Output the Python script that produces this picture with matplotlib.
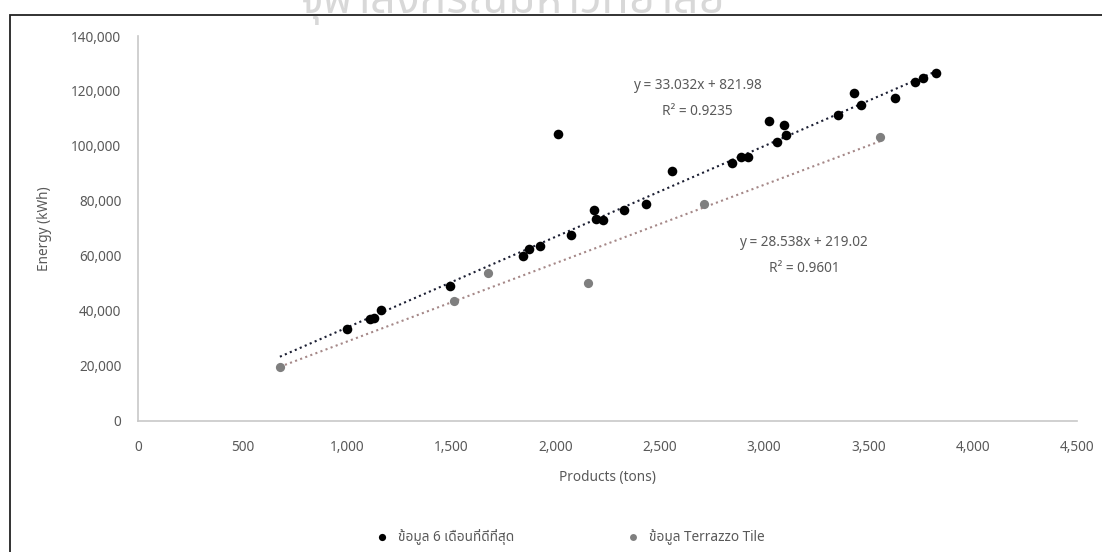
import matplotlib
matplotlib.use("Agg")
import matplotlib.pyplot as plt
from matplotlib import font_manager
from matplotlib.patches import Rectangle
from matplotlib.ticker import FuncFormatter

# best 6 months (black)
best_x = [1003, 1112, 1130, 1163, 1495, 1846, 1875, 1926, 2014, 2075, 2186, 2194,
          2230, 2329, 2433, 2560, 2849, 2888, 2924, 3023, 3060, 3097, 3105, 3356,
          3432, 3464, 3630, 3723, 3760, 3822]
best_y = [33200, 37100, 37500, 40200, 48900, 59800, 62400, 63400, 104300, 67400, 76500, 73300,
          73100, 76500, 78700, 90700, 93700, 95800, 95800, 108900, 101600, 107600, 104100, 111300,
          119300, 115000, 117600, 123400, 124600, 126600]

# terrazzo tile (gray)
tile_x = [680, 1514, 1676, 2155, 2712, 3557]
tile_y = [19600, 43600, 53900, 50100, 78700, 103300]

# trendlines: slope, intercept, x range
best_fit = (33.032, 821.98)
best_range = [680, 3822]
tile_fit = (28.538, 219.02)
tile_range = [680, 3557]

best_label = 'ข้อมูล 6 เดือนที่ดีที่สุด'
tile_label = 'ข้อมูล Terrazzo Tile'
best_eq = ['y = 33.032x + 821.98', 'R² = 0.9235']
tile_eq = ['y = 28.538x + 219.02', 'R² = 0.9601']
watermark = 'จุฬาลงกรณ์มหาวิทยาลัย'


def pick(cands):
    names = {f.name for f in font_manager.fontManager.ttflist}
    for c in cands:
        if c in names:
            return c
    return 'DejaVu Sans'


thai = pick(['Noto Sans Thai', 'Sarabun', 'Anuphan', 'Athiti'])
plt.rcParams['font.family'] = ['Noto Sans', thai]

txt = '#595959'
fs = 9.8
fig = plt.figure(figsize=(11.02, 5.52), dpi=100)

# watermark (cut off at the top, as in the scan) and outer frame
fig.text(0.465, 1 - 13 / 552, watermark, fontsize=32, fontweight='bold', color='#d8d8d8',
         ha='center', va='baseline', family=[thai], zorder=0)
fig.patches.append(Rectangle((10 / 1102, -0.1), 1.2, 1 - 15 / 552 + 0.1, transform=fig.transFigure,
                             fill=False, edgecolor='#222222', linewidth=1.3, zorder=1))

ax = fig.add_axes([138 / 1102, 1 - 420.7 / 552, (1077 - 138) / 1102, (420.7 - 36) / 552])
ax.set_xlim(0, 4500)
ax.set_ylim(0, 140000)

for rng, (m, b), col in [(best_range, best_fit, '#1c1f33'), (tile_range, tile_fit, '#a58888')]:
    ax.plot(rng, [m * v + b for v in rng], color=col, lw=1.5, linestyle=(0, (1, 1.6)), zorder=2)

ax.scatter(best_x, best_y, s=48, color='black', label=best_label, zorder=3, linewidths=0)
ax.scatter(tile_x, tile_y, s=44, color='#7f7f7f', label=tile_label, zorder=3, linewidths=0)

ax.text(2679, 122000, best_eq[0], ha='center', va='center', fontsize=fs, color=txt)
ax.text(2679, 112700, best_eq[1], ha='center', va='center', fontsize=fs, color=txt)
ax.text(3191, 64800, tile_eq[0], ha='center', va='center', fontsize=fs, color=txt)
ax.text(3191, 55500, tile_eq[1], ha='center', va='center', fontsize=fs, color=txt)

ax.set_xticks(range(0, 4501, 500))
ax.set_yticks(range(0, 140001, 20000))
fmt = FuncFormatter(lambda v, p: '{:,.0f}'.format(v))
ax.xaxis.set_major_formatter(fmt)
ax.yaxis.set_major_formatter(fmt)
ax.tick_params(length=0, labelsize=fs, labelcolor=txt, pad=14)
ax.tick_params(axis='y', pad=12)
for s in ['top', 'right']:
    ax.spines[s].set_visible(False)
for s in ['left', 'bottom']:
    ax.spines[s].set_color('#c8c8c8')
    ax.spines[s].set_linewidth(1.2)

ax.set_xlabel('Products (tons)', fontsize=fs, color=txt, labelpad=11)
ax.set_ylabel('Energy (kWh)', fontsize=fs, color=txt, labelpad=14)

fig.legend(loc='center', bbox_to_anchor=(0.514, 1 - 537 / 552), ncol=2, frameon=False,
           fontsize=fs, labelcolor=txt, markerscale=0.75, handletextpad=0.2, columnspacing=7.7)

fig.savefig('out.png')
